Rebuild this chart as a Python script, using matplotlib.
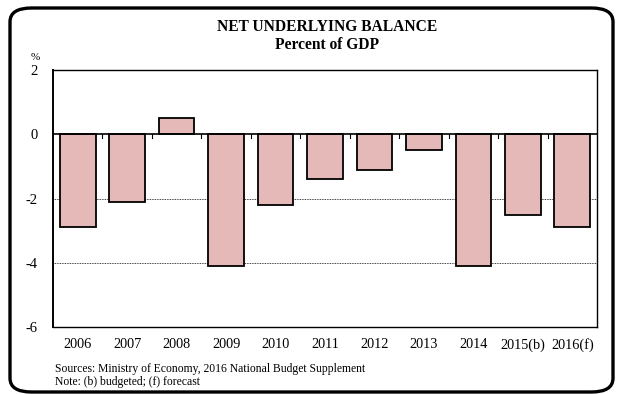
import matplotlib
matplotlib.use("Agg")
import matplotlib.pyplot as plt
from matplotlib.patches import FancyBboxPatch

# ── Data ─────────────────────────────────────────────────────────────────────
years  = ["2006", "2007", "2008", "2009", "2010", "2011",
          "2012", "2013", "2014", "2015(b)", "2016(f)"]
values = [-2.9, -2.1, 0.5, -4.1, -2.2, -1.4, -1.1, -0.5, -4.1, -2.5, -2.9]
yticks = [2, 0, -2, -4, -6]

title    = "NET UNDERLYING BALANCE\nPercent of GDP"
sources  = "Sources: Ministry of Economy, 2016 National Budget Supplement"
note     = "Note: (b) budgeted; (f) forecast"

plt.rcParams["font.family"] = ["Liberation Serif", "DejaVu Serif"]

W, H = 618, 394
fig = plt.figure(figsize=(W / 100, H / 100), dpi=100)

# rounded outer frame
frame = FancyBboxPatch((10 / W, 2 / H), 603 / W, 384 / H,
                       boxstyle="round,pad=0,rounding_size=0.035",
                       transform=fig.transFigure, fill=False,
                       edgecolor="black", linewidth=2.4)
fig.patches.append(frame)

ax = fig.add_axes([53 / W, (H - 327) / H, 544 / W, 257 / H])
x = list(range(len(years)))
ax.bar(x, values, width=0.72, color="#e6b9b9", edgecolor="black",
       linewidth=1.3, zorder=3)

ax.set_xlim(-0.5, len(years) - 0.5)
ax.set_ylim(-6, 2)
ax.set_yticks(yticks)
ax.set_yticklabels([str(v) for v in yticks], fontsize=10.5)
ax.tick_params(axis="y", length=0, pad=11)

ax.set_xticks(x)
ax.set_xticklabels(years, fontsize=10.3)
ax.tick_params(axis="x", length=0, pad=8)

# gridlines at -2, -4
for g in (-2, -4):
    ax.axhline(g, color="black", linewidth=0.6, linestyle=(0, (1, 1)), zorder=1)

# zero line with little ticks between categories
ax.axhline(0, color="black", linewidth=1.2, zorder=4)
for b in range(1, len(years)):
    ax.plot([b - 0.5, b - 0.5], [0, -0.12], color="black", linewidth=0.8, zorder=4)

for s in ax.spines.values():
    s.set_linewidth(1.0)
ax.spines["left"].set_linewidth(1.4)

fig.text(327 / W, 1 - 36 / H, title, ha="center", va="center",
         fontsize=11.2, fontweight="bold", linespacing=1.1)
fig.text(35 / W, 1 - 57 / H, "%", ha="center", va="center", fontsize=8)
fig.text(55 / W, 1 - 369 / H, sources, ha="left", va="center", fontsize=8.4)
fig.text(55 / W, 1 - 382 / H, note, ha="left", va="center", fontsize=8.4)

fig.savefig("out.png", dpi=100)
